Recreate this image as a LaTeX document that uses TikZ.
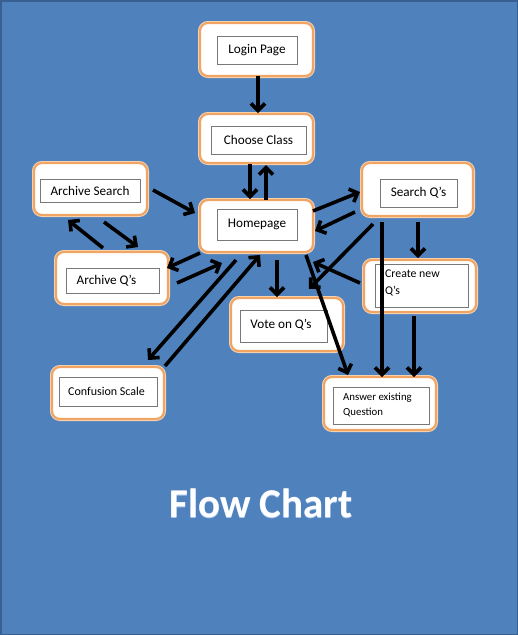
\documentclass[tikz,border=0pt]{standalone}
\usepackage{fontspec}
\setmainfont{Carlito}
\usetikzlibrary{arrows.meta}
\definecolor{bgblue}{RGB}{79,129,189}
\definecolor{bgedge}{RGB}{58,95,145}
\definecolor{boxorange}{RGB}{240,165,100}
\definecolor{boxglow}{RGB}{250,215,180}
\definecolor{innergray}{RGB}{120,120,120}
\definecolor{titleglow}{RGB}{170,200,235}
\tikzset{
  outerbox/.style={draw=boxorange, line width=2.2pt, fill=white, rounded corners=8pt,
    inner sep=0pt, preaction={draw=boxglow, line width=4pt}},
  innerbox/.style={draw=innergray, line width=0.8pt, fill=white, inner sep=0pt},
  conn/.style={line width=3.6pt, -{Straight Barb[length=7pt,width=14pt]}},
  lbl/.style={font=\fontsize{13.2}{15}\selectfont, text=black},
}
\begin{document}
\begin{tikzpicture}[x=1pt,y=-1pt]
\useasboundingbox (0,0) rectangle (518,635);
\fill[bgblue] (0,0) rectangle (518,635);
\draw[bgedge, line width=1.5pt] (0.75,0.75) rectangle (517.25,634.25);

% Outer boxes
\node[outerbox, minimum width=113pt, minimum height=53pt] (login) at (256.5,49.5) {};
\node[outerbox, minimum width=113pt, minimum height=49pt] (choose) at (256.5,138.5) {};
\node[outerbox, minimum width=113pt, minimum height=52pt] (asearch) at (90.5,189) {};
\node[outerbox, minimum width=113pt, minimum height=52pt] (home) at (256.5,226) {};
\node[outerbox, minimum width=111pt, minimum height=53pt] (sq) at (417.5,189.5) {};
\node[outerbox, minimum width=112pt, minimum height=52pt] (aq) at (112,278) {};
\node[outerbox, minimum width=112pt, minimum height=53pt] (vote) at (287,324.5) {};
\node[outerbox, minimum width=112pt, minimum height=52pt] (create) at (420,286) {};
\node[outerbox, minimum width=112pt, minimum height=52pt] (conf) at (108,393) {};
\node[outerbox, minimum width=112pt, minimum height=53pt] (ans) at (380,403.5) {};

% Inner boxes with text
\node[innerbox, minimum width=80pt, minimum height=28pt, lbl] (login-in) at (257,50) {Login Page};
\node[innerbox, minimum width=95pt, minimum height=28pt, lbl] (choose-in) at (258.5,140) {Choose Class};
\node[innerbox, minimum width=100pt, minimum height=23pt, lbl] (asearch-in) at (90,190.5) {Archive Search};
\node[innerbox, minimum width=80pt, minimum height=31pt, lbl] (home-in) at (257,224.5) {Homepage};
\node[innerbox, minimum width=77pt, minimum height=28pt, lbl] (sq-in) at (418.5,193) {Search Q’s};
\node[innerbox, minimum width=93pt, minimum height=25pt] (aq-in) at (112.5,280.5) {};
\node[lbl] (aq-t) at (106.5,281) {Archive Q’s};
\node[innerbox, minimum width=87pt, minimum height=32pt] (vote-in) at (283.5,326) {};
\node[lbl] (vote-t) at (281,325) {Vote on Q’s};
\node[innerbox, minimum width=93pt, minimum height=43pt] (create-in) at (421.5,285.5) {};
\node[anchor=north west, inner sep=0pt, align=left, font=\fontsize{11.8}{17}\selectfont] (create-t) at (385,270) {Create new\\Q’s};
\node[innerbox, minimum width=98pt, minimum height=29pt] (conf-in) at (108,391.5) {};
\node[font=\fontsize{12}{14}\selectfont] (conf-t) at (106.5,391) {Confusion Scale};
\node[innerbox, minimum width=96pt, minimum height=37pt] (ans-in) at (381,405.5) {};
\node[anchor=north west, inner sep=0pt, align=left, font=\fontsize{10.8}{15}\selectfont] (ans-t) at (343,392.5) {Answer existing\\Question};

% Connectors
\draw[conn] ([shift={(1.5,26.5)}]login.center) -- ([shift={(1.5,-25.5)}]choose.center);
\draw[conn] ([shift={(-6.5,25.5)}]choose.center) -- ([shift={(-6.5,-27)}]home.center);
\draw[conn] ([shift={(9.5,-26)}]home.center) -- ([shift={(9.5,26.5)}]choose.center);
\draw[conn] ([shift={(62.5,1)}]asearch.center) -- ([shift={(-61.5,-13)}]home.center);
\draw[conn] ([shift={(-9,-30)}]aq.center) -- ([shift={(-22.5,31)}]asearch.center);
\draw[conn] ([shift={(13.5,33)}]asearch.center) -- ([shift={(26,-31)}]aq.center);
\draw[conn] ([shift={(56.5,-15)}]home.center) -- ([shift={(-57.5,2.5)}]sq.center);
\draw[conn] ([shift={(-62.5,22.5)}]sq.center) -- ([shift={(58.5,5)}]home.center);
\draw[conn] ([shift={(0.5,32.5)}]sq.center) -- ([shift={(-2,-28)}]create.center);
\draw[conn] ([shift={(-35.5,32.5)}]sq.center) -- ([shift={(2,-26.5)}]ans.center);
\draw[conn] ([shift={(-44.5,34.5)}]sq.center) -- ([shift={(22,-35.5)}]vote.center);
\draw[conn] ([shift={(-56.5,27)}]home.center) -- ([shift={(55,-10)}]aq.center);
\draw[conn] ([shift={(65,5)}]aq.center) -- ([shift={(-34.5,37)}]home.center);
\draw[conn] ([shift={(-20.5,34)}]home.center) -- ([shift={(40,-33)}]conf.center);
\draw[conn] ([shift={(57,-27)}]conf.center) -- ([shift={(3.5,29)}]home.center);
\draw[conn] ([shift={(20.5,34)}]home.center) -- ([shift={(-10,-27.5)}]vote.center);
\draw[conn] ([shift={(49.5,29)}]home.center) -- ([shift={(-32,-28.5)}]ans.center);
\draw[conn] ([shift={(-60,-3)}]create.center) -- ([shift={(56.5,36)}]home.center);
\draw[conn] ([shift={(-6,30)}]create.center) -- ([shift={(34,-26.5)}]ans.center);

% Title
\node[font=\bfseries\fontsize{41}{48}\selectfont, text=titleglow] (title-glow) at (261,504.5) {Flow Chart};
\node[font=\bfseries\fontsize{41}{48}\selectfont, text=white] (title) at (261,503) {Flow Chart};
\end{tikzpicture}
\end{document}
